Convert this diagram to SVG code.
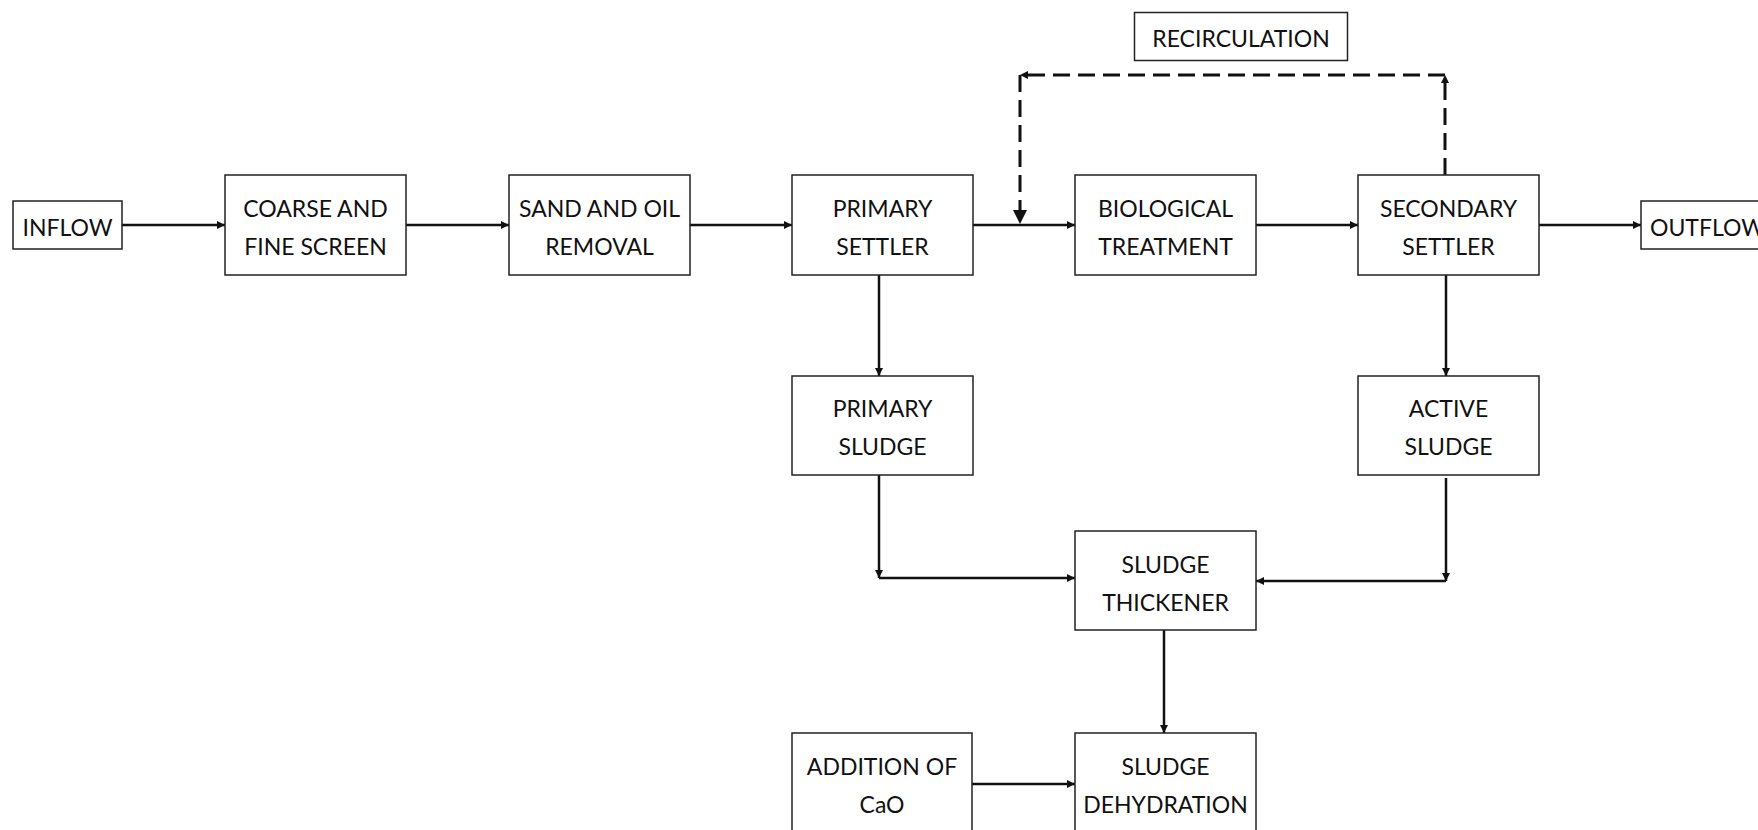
<svg xmlns="http://www.w3.org/2000/svg" width="1758" height="830" viewBox="0 0 1758 830">
<defs>
<style>
.box{fill:#fff;stroke:#222;stroke-width:1.5}
.t{font-family:Lato,"Liberation Sans",sans-serif;font-size:23px;fill:#111;text-anchor:middle}
.c{fill:none;stroke:#111;stroke-width:2.5}
.d{fill:none;stroke:#111;stroke-width:3;stroke-dasharray:17 8}
</style>
<marker id="a" markerUnits="userSpaceOnUse" viewBox="0 0 8 8" refX="8" refY="4" markerWidth="8" markerHeight="8" orient="auto"><path d="M0,0 L8,4 L0,8 z" fill="#111"/></marker>
<marker id="b" markerUnits="userSpaceOnUse" viewBox="0 0 14 14" refX="14" refY="7" markerWidth="14" markerHeight="14" orient="auto"><path d="M0,0 L14,7 L0,14 z" fill="#111"/></marker>
</defs>
<rect width="1758" height="830" fill="#fff"/>
<g id="connectors">
<path class="c" d="M122,225 H225" marker-end="url(#a)"/>
<path class="c" d="M406,225 H509" marker-end="url(#a)"/>
<path class="c" d="M690,225 H792" marker-end="url(#a)"/>
<path class="c" d="M973,225 H1075" marker-end="url(#a)"/>
<path class="c" d="M1256,225 H1358" marker-end="url(#a)"/>
<path class="c" d="M1539,225 H1641" marker-end="url(#a)"/>
<path class="c" d="M879,275 V376" marker-end="url(#a)"/>
<path class="c" d="M1446,275 V376" marker-end="url(#a)"/>
<path class="c" d="M879,475 V578" marker-end="url(#a)"/>
<path class="c" d="M879,578 H1075" marker-end="url(#a)"/>
<path class="c" d="M1446,478 V581" marker-end="url(#a)"/>
<path class="c" d="M1446,581 H1256" marker-end="url(#a)"/>
<path class="c" d="M1164,630 V733" marker-end="url(#a)"/>
<path class="c" d="M971,784 H1075" marker-end="url(#a)"/>
<path class="d" d="M1445,175 V75" marker-end="url(#a)"/>
<path class="d" d="M1445,75 H1020" marker-end="url(#a)"/>
<path class="d" d="M1020,75 V224" marker-end="url(#b)"/>
</g>
<g id="inflow"><rect class="box" x="13" y="201" width="109" height="48"/><text class="t" x="67.5" y="236">INFLOW</text></g>
<g id="screen"><rect class="box" x="225" y="175" width="181" height="100"/><text class="t" x="315.5" y="216.7">COARSE AND</text><text class="t" x="315.5" y="255">FINE SCREEN</text></g>
<g id="sand"><rect class="box" x="509" y="175" width="181" height="100"/><text class="t" x="599.5" y="216.7">SAND AND OIL</text><text class="t" x="599.5" y="255">REMOVAL</text></g>
<g id="primary-settler"><rect class="box" x="792" y="175" width="181" height="100"/><text class="t" x="882.5" y="216.7">PRIMARY</text><text class="t" x="882.5" y="255">SETTLER</text></g>
<g id="biological"><rect class="box" x="1075" y="175" width="181" height="100"/><text class="t" x="1165.5" y="216.7">BIOLOGICAL</text><text class="t" x="1165.5" y="255">TREATMENT</text></g>
<g id="secondary-settler"><rect class="box" x="1358" y="175" width="181" height="100"/><text class="t" x="1448.5" y="216.7">SECONDARY</text><text class="t" x="1448.5" y="255">SETTLER</text></g>
<g id="outflow"><rect class="box" x="1641" y="201" width="130" height="48"/><text class="t" x="1650" y="236" style="text-anchor:start">OUTFLOW</text></g>
<g id="recirculation"><rect class="box" x="1134.5" y="12.5" width="213" height="48"/><text class="t" x="1241" y="46.7">RECIRCULATION</text></g>
<g id="primary-sludge"><rect class="box" x="792" y="376" width="181" height="99"/><text class="t" x="882.5" y="417">PRIMARY</text><text class="t" x="882.5" y="455">SLUDGE</text></g>
<g id="active-sludge"><rect class="box" x="1358" y="376" width="181" height="99"/><text class="t" x="1448.5" y="417">ACTIVE</text><text class="t" x="1448.5" y="455">SLUDGE</text></g>
<g id="thickener"><rect class="box" x="1075" y="531" width="181" height="99"/><text class="t" x="1165.5" y="572.5">SLUDGE</text><text class="t" x="1165.5" y="610.5">THICKENER</text></g>
<g id="cao"><rect class="box" x="792" y="733" width="180" height="110"/><text class="t" x="882" y="775">ADDITION OF</text><text class="t" x="882" y="813">CaO</text></g>
<g id="dehydration"><rect class="box" x="1075" y="733" width="181" height="110"/><text class="t" x="1165.5" y="775">SLUDGE</text><text class="t" x="1165.5" y="813">DEHYDRATION</text></g>
</svg>
